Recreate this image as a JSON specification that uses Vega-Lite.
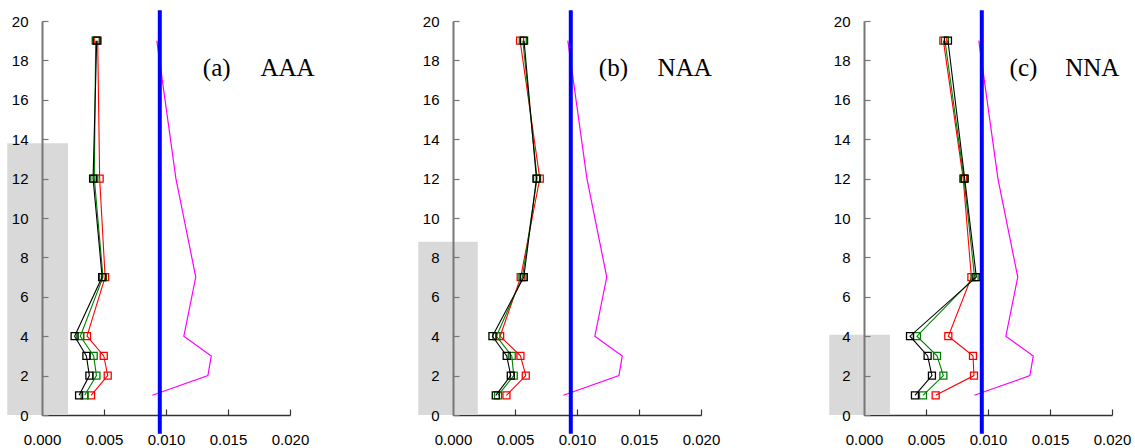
{
  "$schema": "https://vega.github.io/schema/vega-lite/v6.json",
  "padding": {"left": 7, "top": 8, "right": 5, "bottom": 5},
  "data": {"values": [
    {"p":"a","k":"r","y":1,"x":0.00396},{"p":"a","k":"r","y":2,"x":0.0053},{"p":"a","k":"r","y":3,"x":0.00498},{"p":"a","k":"r","y":4,"x":0.00363},{"p":"a","k":"r","y":7,"x":0.00509},{"p":"a","k":"r","y":12,"x":0.00465},{"p":"a","k":"r","y":19,"x":0.00449},
    {"p":"a","k":"g","y":1,"x":0.00344},{"p":"a","k":"g","y":2,"x":0.00439},{"p":"a","k":"g","y":3,"x":0.00417},{"p":"a","k":"g","y":4,"x":0.00309},{"p":"a","k":"g","y":7,"x":0.00492},{"p":"a","k":"g","y":12,"x":0.00422},{"p":"a","k":"g","y":19,"x":0.00433},
    {"p":"a","k":"k","y":1,"x":0.00299},{"p":"a","k":"k","y":2,"x":0.00382},{"p":"a","k":"k","y":3,"x":0.00358},{"p":"a","k":"k","y":4,"x":0.00263},{"p":"a","k":"k","y":7,"x":0.00485},{"p":"a","k":"k","y":12,"x":0.00412},{"p":"a","k":"k","y":19,"x":0.00441},
    {"p":"b","k":"r","y":1,"x":0.00431},{"p":"b","k":"r","y":2,"x":0.00587},{"p":"b","k":"r","y":3,"x":0.00544},{"p":"b","k":"r","y":4,"x":0.0038},{"p":"b","k":"r","y":7,"x":0.00546},{"p":"b","k":"r","y":12,"x":0.007},{"p":"b","k":"r","y":19,"x":0.00541},
    {"p":"b","k":"g","y":1,"x":0.00363},{"p":"b","k":"g","y":2,"x":0.0049},{"p":"b","k":"g","y":3,"x":0.00474},{"p":"b","k":"g","y":4,"x":0.0035},{"p":"b","k":"g","y":7,"x":0.0056},{"p":"b","k":"g","y":12,"x":0.00678},{"p":"b","k":"g","y":19,"x":0.00563},
    {"p":"b","k":"k","y":1,"x":0.00345},{"p":"b","k":"k","y":2,"x":0.00466},{"p":"b","k":"k","y":3,"x":0.00433},{"p":"b","k":"k","y":4,"x":0.00318},{"p":"b","k":"k","y":7,"x":0.00571},{"p":"b","k":"k","y":12,"x":0.00673},{"p":"b","k":"k","y":19,"x":0.00573},
    {"p":"c","k":"r","y":1,"x":0.00578},{"p":"c","k":"r","y":2,"x":0.00887},{"p":"c","k":"r","y":3,"x":0.00879},{"p":"c","k":"r","y":4,"x":0.0068},{"p":"c","k":"r","y":7,"x":0.00866},{"p":"c","k":"r","y":12,"x":0.008},{"p":"c","k":"r","y":19,"x":0.0064},
    {"p":"c","k":"g","y":1,"x":0.00476},{"p":"c","k":"g","y":2,"x":0.0064},{"p":"c","k":"g","y":3,"x":0.00589},{"p":"c","k":"g","y":4,"x":0.00427},{"p":"c","k":"g","y":7,"x":0.00892},{"p":"c","k":"g","y":12,"x":0.00806},{"p":"c","k":"g","y":19,"x":0.00653},
    {"p":"c","k":"k","y":1,"x":0.00411},{"p":"c","k":"k","y":2,"x":0.00548},{"p":"c","k":"k","y":3,"x":0.00513},{"p":"c","k":"k","y":4,"x":0.00371},{"p":"c","k":"k","y":7,"x":0.00906},{"p":"c","k":"k","y":12,"x":0.00812},{"p":"c","k":"k","y":19,"x":0.00677},
    {"p":"a","k":"m","y":1,"x":0.0089},{"p":"a","k":"m","y":2,"x":0.01338},{"p":"a","k":"m","y":3,"x":0.01365},{"p":"a","k":"m","y":4,"x":0.01144},{"p":"a","k":"m","y":7,"x":0.0124},{"p":"a","k":"m","y":12,"x":0.0108},{"p":"a","k":"m","y":19,"x":0.00926},
    {"p":"b","k":"m","y":1,"x":0.0089},{"p":"b","k":"m","y":2,"x":0.01338},{"p":"b","k":"m","y":3,"x":0.01365},{"p":"b","k":"m","y":4,"x":0.01144},{"p":"b","k":"m","y":7,"x":0.0124},{"p":"b","k":"m","y":12,"x":0.0108},{"p":"b","k":"m","y":19,"x":0.00926},
    {"p":"c","k":"m","y":1,"x":0.0089},{"p":"c","k":"m","y":2,"x":0.01338},{"p":"c","k":"m","y":3,"x":0.01365},{"p":"c","k":"m","y":4,"x":0.01144},{"p":"c","k":"m","y":7,"x":0.0124},{"p":"c","k":"m","y":12,"x":0.0108},{"p":"c","k":"m","y":19,"x":0.00926},
    {"p":"a","k":"gray","x":-0.0028,"x2":0.0021,"y":0,"y2":13.8},
    {"p":"b","k":"gray","x":-0.0028,"x2":0.002,"y":0,"y2":8.8},
    {"p":"c","k":"gray","x":-0.0028,"x2":0.0021,"y":0,"y2":4.07},
    {"p":"a","k":"b","x":0.0095,"y":-0.95,"y2":20.55},
    {"p":"b","k":"b","x":0.0095,"y":-0.95,"y2":20.55},
    {"p":"c","k":"b","x":0.0095,"y":-0.95,"y2":20.55},
    {"p":"a","k":"t","x":0.01297,"y":17.2,"text":"(a)"},
    {"p":"a","k":"t","x":0.01762,"y":17.2,"text":"AAA"},
    {"p":"b","k":"t","x":0.01176,"y":17.2,"text":"(b)"},
    {"p":"b","k":"t","x":0.0165,"y":17.2,"text":"NAA"},
    {"p":"c","k":"t","x":0.01174,"y":17.2,"text":"(c)"},
    {"p":"c","k":"t","x":0.01623,"y":17.2,"text":"NNA"}
  ]},
  "facet": {"column": {"field": "p", "type": "nominal", "header": null}},
  "spacing": 163,
  "bounds": "flush",
  "resolve": {"axis": {"y": "independent", "x": "independent"}},
  "spec": {
    "width": 248,
    "height": 394,
    "encoding": {
      "x": {"field": "x", "type": "quantitative", "title": null,
        "scale": {"domain": [0, 0.02], "nice": false, "zero": false},
        "axis": {"values": [0, 0.005, 0.01, 0.015, 0.02], "format": ".3f", "grid": false,
          "tickSize": -6, "labelPadding": 23, "domainColor": "#333333", "tickColor": "#333333",
          "domainWidth": 1.5, "tickWidth": 1.2, "labelFlush": false, "labelOverlap": false, "zindex": 0}},
      "y": {"field": "y", "type": "quantitative", "title": null,
        "scale": {"domain": [0, 20], "nice": false, "zero": false},
        "axis": {"values": [0, 2, 4, 6, 8, 10, 12, 14, 16, 18, 20], "grid": false,
          "tickSize": -6, "labelPadding": 20, "domainColor": "#777777", "tickColor": "#777777",
          "domainWidth": 2, "tickWidth": 1.2, "labelFlush": false, "labelOverlap": false, "zindex": 1}}
    },
    "layer": [
      {"transform": [{"filter": "datum.k == 'gray'"}],
       "mark": {"type": "rect", "color": "#d9d9d9"},
       "encoding": {"x2": {"field": "x2"}, "y2": {"field": "y2"}}},
      {"transform": [{"filter": "datum.k == 'm'"}],
       "mark": {"type": "line", "color": "#ff00ff", "strokeWidth": 1.2},
       "encoding": {"order": {"field": "y", "type": "quantitative"}}},
      {"transform": [{"filter": "datum.k == 'r'"}],
       "mark": {"type": "line", "color": "#ff0000", "strokeWidth": 1.1,
         "point": {"shape": "square", "filled": false, "size": 49, "strokeWidth": 1.3, "color": "#ff0000"}},
       "encoding": {"order": {"field": "y", "type": "quantitative"}}},
      {"transform": [{"filter": "datum.k == 'g'"}],
       "mark": {"type": "line", "color": "#008000", "strokeWidth": 1.1,
         "point": {"shape": "square", "filled": false, "size": 49, "strokeWidth": 1.3, "color": "#008000"}},
       "encoding": {"order": {"field": "y", "type": "quantitative"}}},
      {"transform": [{"filter": "datum.k == 'k'"}],
       "mark": {"type": "line", "color": "#000000", "strokeWidth": 1.1,
         "point": {"shape": "square", "filled": false, "size": 49, "strokeWidth": 1.3, "color": "#000000"}},
       "encoding": {"order": {"field": "y", "type": "quantitative"}}},
      {"transform": [{"filter": "datum.k == 'b'"}],
       "mark": {"type": "rule", "color": "#0000ff", "strokeWidth": 4},
       "encoding": {"y2": {"field": "y2"}}},
      {"transform": [{"filter": "datum.k == 't'"}],
       "mark": {"type": "text", "font": "Liberation Serif", "fontSize": 25, "align": "left", "baseline": "alphabetic", "color": "#000000"},
       "encoding": {"text": {"field": "text"}}}
    ]
  },
  "config": {
    "view": {"stroke": null},
    "axis": {"labelFont": "Liberation Sans", "labelFontSize": 15, "labelColor": "#000000"}
  }
}
